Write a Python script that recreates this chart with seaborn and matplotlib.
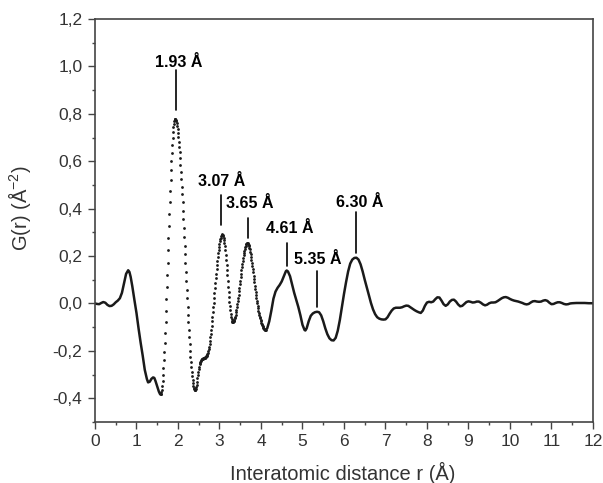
import numpy as np
import pandas as pd
import matplotlib
matplotlib.use("Agg")
import matplotlib.pyplot as plt
import seaborn as sns
from matplotlib.ticker import MultipleLocator, FuncFormatter

# G(r)
# low-r part (drawn as a line, dots merge there)
r_low = [0.00, 0.05, 0.10, 0.15, 0.20, 0.25, 0.30, 0.35, 0.40, 0.45, 0.50, 0.55,
         0.60, 0.65, 0.70, 0.75, 0.80, 0.83, 0.86, 0.90, 0.95, 1.00, 1.05, 1.10,
         1.15, 1.20, 1.25, 1.28, 1.32, 1.36, 1.40, 1.43, 1.46, 1.50, 1.54, 1.57, 1.58]
g_low = [0.000, -0.002, -0.003, 0.002, 0.006, 0.003, -0.006, -0.011, -0.010, -0.004, 0.005, 0.012,
         0.022, 0.045, 0.085, 0.125, 0.140, 0.133, 0.112, 0.072, 0.015, -0.040, -0.105, -0.165,
         -0.220, -0.280, -0.318, -0.333, -0.330, -0.318, -0.312, -0.314, -0.328, -0.350, -0.372, -0.383, -0.384]

# steep part, 0.01 A step starting at r = 1.58 (visible as separate dots)
g_dense = [
    # 1.58 - 1.93
    -0.384, -0.382, -0.375, -0.363, -0.347, -0.326, -0.302, -0.273, -0.240, -0.204, -0.165, -0.123,
    -0.078, -0.031, 0.018, 0.068, 0.120, 0.172, 0.224, 0.276, 0.328, 0.378, 0.427, 0.474,
    0.519, 0.561, 0.600, 0.636, 0.669, 0.698, 0.722, 0.743, 0.759, 0.771, 0.778, 0.780,
    # 1.94 - 2.41
    0.779, 0.775, 0.769, 0.760, 0.750, 0.736, 0.721, 0.703, 0.683, 0.661, 0.638, 0.612,
    0.585, 0.556, 0.525, 0.493, 0.460, 0.426, 0.391, 0.355, 0.318, 0.281, 0.244, 0.207,
    0.169, 0.132, 0.095, 0.058, 0.022, -0.013, -0.047, -0.080, -0.112, -0.143, -0.172, -0.199,
    -0.225, -0.248, -0.270, -0.290, -0.308, -0.323, -0.337, -0.347, -0.356, -0.362, -0.366, -0.367,
    # 2.42 - 2.68
    -0.365, -0.360, -0.352, -0.342, -0.330, -0.316, -0.302, -0.289, -0.277, -0.266, -0.257, -0.250,
    -0.245, -0.241, -0.238, -0.236, -0.235, -0.234, -0.233, -0.232, -0.231, -0.230, -0.229, -0.228,
    -0.226, -0.224, -0.222,
    # 2.69 - 3.07
    -0.221, -0.219, -0.215, -0.209, -0.201, -0.193, -0.182, -0.171, -0.158, -0.143, -0.128, -0.111,
    -0.094, -0.075, -0.057, -0.037, -0.017, 0.004, 0.024, 0.045, 0.065, 0.086, 0.106, 0.125,
    0.144, 0.163, 0.180, 0.197, 0.212, 0.227, 0.240, 0.251, 0.262, 0.270, 0.278, 0.284,
    0.288, 0.290, 0.291,
    # 3.08 - 3.32
    0.290, 0.285, 0.278, 0.268, 0.256, 0.241, 0.224, 0.205, 0.185, 0.163, 0.141, 0.118,
    0.094, 0.071, 0.049, 0.027, 0.007, -0.012, -0.029, -0.044, -0.056, -0.066, -0.073, -0.078,
    -0.079,
    # 3.33 - 3.67
    -0.078, -0.076, -0.073, -0.068, -0.062, -0.055, -0.047, -0.038, -0.027, -0.016, -0.004, 0.009,
    0.022, 0.036, 0.051, 0.066, 0.081, 0.095, 0.110, 0.125, 0.140, 0.154, 0.167, 0.180,
    0.192, 0.203, 0.214, 0.223, 0.231, 0.238, 0.244, 0.249, 0.252, 0.254, 0.255,
    # 3.68 - 4.11
    0.254, 0.252, 0.248, 0.243, 0.236, 0.228, 0.219, 0.208, 0.197, 0.185, 0.172, 0.159,
    0.145, 0.131, 0.117, 0.103, 0.089, 0.075, 0.062, 0.049, 0.036, 0.024, 0.012, 0.001,
    -0.010, -0.020, -0.030, -0.039, -0.047, -0.055, -0.062, -0.069, -0.075, -0.081, -0.086, -0.091,
    -0.095, -0.099, -0.103, -0.106, -0.108, -0.110, -0.111, -0.112,
]

# high-r part (line)
r_high = [4.11, 4.15, 4.20, 4.25, 4.30, 4.35, 4.40, 4.45, 4.50, 4.55, 4.60, 4.62, 4.65, 4.70,
          4.75, 4.80, 4.85, 4.90, 4.95, 5.00, 5.05, 5.07, 5.10, 5.15, 5.20, 5.25, 5.30, 5.35,
          5.40, 5.45, 5.50, 5.55, 5.60, 5.65, 5.70, 5.75, 5.80, 5.85, 5.90, 5.95, 6.00, 6.05,
          6.10, 6.15, 6.20, 6.25, 6.30, 6.35, 6.40, 6.45, 6.50, 6.55, 6.60, 6.65, 6.70, 6.75,
          6.80, 6.85, 6.90, 6.95, 7.00, 7.05, 7.10, 7.15, 7.20, 7.25, 7.30, 7.35, 7.40, 7.45,
          7.50, 7.55, 7.60, 7.65, 7.70, 7.75, 7.80, 7.85, 7.90, 7.95, 8.00, 8.05, 8.10, 8.15,
          8.20, 8.25, 8.30, 8.35, 8.40, 8.45, 8.50, 8.55, 8.60, 8.65, 8.70, 8.75, 8.80, 8.85,
          8.90, 8.95, 9.00, 9.05, 9.10, 9.15, 9.20, 9.25, 9.30, 9.35, 9.40, 9.45, 9.50, 9.55,
          9.60, 9.65, 9.70, 9.75, 9.80, 9.85, 9.90, 9.95, 10.00, 10.05, 10.10, 10.15, 10.20,
          10.25, 10.30, 10.35, 10.40, 10.45, 10.50, 10.55, 10.60, 10.65, 10.70, 10.75, 10.80,
          10.85, 10.90, 10.95, 11.00, 11.05, 11.10, 11.15, 11.20, 11.25, 11.30, 11.35, 11.40,
          11.45, 11.50, 11.60, 11.70, 11.80, 11.90, 12.00]
g_high = [-0.112, -0.105, -0.075, -0.030, 0.020, 0.050, 0.066, 0.078, 0.093, 0.115, 0.136, 0.139, 0.135, 0.115,
          0.080, 0.045, 0.015, -0.015, -0.050, -0.090, -0.112, -0.114, -0.105, -0.075, -0.052, -0.042, -0.037, -0.035,
          -0.037, -0.050, -0.075, -0.105, -0.130, -0.147, -0.155, -0.156, -0.145, -0.115, -0.070, -0.015, 0.040, 0.090,
          0.135, 0.168, 0.185, 0.192, 0.193, 0.185, 0.165, 0.135, 0.100, 0.068, 0.035, 0.002, -0.025, -0.045,
          -0.058, -0.064, -0.067, -0.068, -0.067, -0.058, -0.043, -0.030, -0.021, -0.018, -0.018, -0.018, -0.016, -0.012,
          -0.009, -0.010, -0.016, -0.022, -0.028, -0.033, -0.037, -0.040, -0.030, -0.010, 0.004, 0.007, 0.005, 0.008,
          0.018, 0.026, 0.025, 0.012, -0.003, -0.010, -0.004, 0.008, 0.015, 0.016, 0.008, -0.004, -0.012, -0.010,
          -0.002, 0.006, 0.009, 0.007, 0.004, 0.005, 0.008, 0.008, 0.003, -0.004, -0.008, -0.005, 0.001, 0.004,
          0.004, 0.005, 0.010, 0.016, 0.022, 0.026, 0.027, 0.024, 0.019, 0.015, 0.012, 0.010, 0.008,
          0.005, 0.002, -0.002, -0.004, -0.002, 0.004, 0.009, 0.010, 0.008, 0.007, 0.008, 0.012,
          0.014, 0.011, 0.003, -0.003, -0.002, 0.002, 0.005, 0.005, 0.002, -0.002, -0.004, -0.003,
          0.000, 0.001, 0.002, 0.002, 0.002, 0.001, 0.001]

peak_labels = ["1.93 Å", "3.07 Å", "3.65 Å", "4.61 Å", "5.35 Å", "6.30 Å"]

r_dense = 1.58 + 0.01 * np.arange(len(g_dense))
df_low = pd.DataFrame({"r": r_low, "G": g_low})
df_dense = pd.DataFrame({"r": r_dense, "G": g_dense})
df_high = pd.DataFrame({"r": r_high, "G": g_high})

sns.set_style("ticks")
plt.rcParams["font.family"] = ["Liberation Sans", "DejaVu Sans"]
plt.rcParams["mathtext.fontset"] = "custom"
plt.rcParams["mathtext.rm"] = "Liberation Sans"
plt.rcParams["mathtext.it"] = "Liberation Sans:italic"

fig = plt.figure(figsize=(6.03, 4.83), dpi=100)
ax = fig.add_axes([0.1575, 0.1263, 0.8259, 0.8344])

ink = "#1a1a1a"
sns.lineplot(data=df_low, x="r", y="G", ax=ax, color=ink, lw=1.8, sort=False)
sns.lineplot(data=df_high, x="r", y="G", ax=ax, color=ink, lw=1.8, sort=False)
sns.scatterplot(data=df_dense, x="r", y="G", ax=ax, color=ink, s=4, linewidth=0)

# peak labels with their sticks: (text x, text y, stick x, stick bottom, stick top)
spots = [(2.02, 1.017, 1.95, 0.815, 0.985),
         (3.04, 0.515, 3.03, 0.333, 0.456),
         (3.73, 0.422, 3.68, 0.278, 0.359),
         (4.70, 0.316, 4.62, 0.160, 0.253),
         (5.37, 0.186, 5.34, -0.013, 0.139),
         (6.37, 0.426, 6.30, 0.212, 0.384)]
for lab, (tx, ty, sx, y0, y1) in zip(peak_labels, spots):
    ax.plot([sx, sx], [y0, y1], color="black", lw=1.2)
    ax.text(tx, ty, lab, ha="center", va="center", fontsize=11.5,
            fontweight="bold", color="black")

ax.set_xlim(0, 12)
ax.set_ylim(-0.5, 1.2)
ax.xaxis.set_major_locator(MultipleLocator(1))
ax.xaxis.set_minor_locator(MultipleLocator(0.5))
ax.yaxis.set_minor_locator(MultipleLocator(0.1))
ax.set_yticks(np.arange(-0.4, 1.21, 0.2))
ax.yaxis.set_major_formatter(FuncFormatter(lambda v, p: f"{v:.1f}".replace(".", ",")))

axis_col = "#444444"
for side in ["left", "bottom", "top", "right"]:
    ax.spines[side].set_color(axis_col)
    ax.spines[side].set_linewidth(1.2)
ax.tick_params(which="major", direction="out", length=5, width=1, color=axis_col,
               labelsize=12.5, labelcolor="#333333", pad=4, top=False, right=False)
ax.tick_params(which="minor", direction="out", length=2.5, width=1, color=axis_col,
               top=False, right=False)

ax.set_xlabel("Interatomic distance r (Å)", fontsize=14.5, color="#333333")
ax.set_ylabel(r"G(r) (Å$^{-2}$)", fontsize=14.5, color="#333333")
ax.xaxis.set_label_coords(0.498, -0.098)
ax.yaxis.set_label_coords(-0.125, 0.531)

fig.savefig("out.png", dpi=100)
